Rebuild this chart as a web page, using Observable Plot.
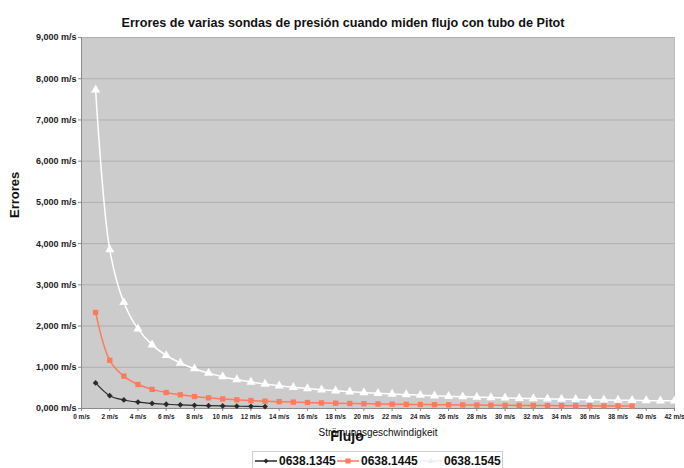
<!DOCTYPE html>
<html>
<head>
<meta charset="utf-8">
<script src="https://cdn.jsdelivr.net/npm/d3@7"></script>
<script src="https://cdn.jsdelivr.net/npm/@observablehq/plot@0.6"></script>
<style>
  body { margin: 0; background: #fff; font-family: "Liberation Sans", Arial, sans-serif; }
  #chart { width: 684px; }
  #legend { position: relative; width: 684px; height: 18px; }
  #legend .box { position: absolute; left: 252px; top: 1px; width: 251px; height: 20px; border: 1px solid #cfcfcf; background: #fff; box-sizing: border-box; }
  #legend .item { position: absolute; top: 2px; display: flex; align-items: center; font-weight: bold; font-size: 12px; color: #111; }
  #legend svg { margin-right: 2px; }
</style>
</head>
<body>
<div id="chart"></div>
<div id="legend"></div>
<script>
const title = "Errores de varias sondas de presión cuando miden flujo con tubo de Pitot";
const seriesNames = ["0638.1345", "0638.1445", "0638.1545"];
const seriesColors = ["#2a2a2a", "#ff7a5a", "#ffffff"];
const seriesSymbols = ["diamond2", "square", "triangle"];

const speeds1345 = [1,2,3,4,5,6,7,8,9,10,11,12,13];
const errors1345 = [620,310,207,155,124,103,89,78,69,62,56,52,48];

const speeds1445 = [1,2,3,4,5,6,7,8,9,10,11,12,13,14,15,16,17,18,19,20,21,22,23,24,25,26,27,28,29,30,31,32,33,34,35,36,37,38,39];
const errors1445 = [2330,1170,785,582,464,387,331,290,258,232,211,193,178,166,155,145,136,129,122,116,110,105,101,97,93,89,86,83,80,77,75,73,70,68,66,64,63,61,59];

const speeds1545 = [1,2,3,4,5,6,7,8,9,10,11,12,13,14,15,16,17,18,19,20,21,22,23,24,25,26,27,28,29,30,31,32,33,34,35,36,37,38,39,40,41,42];
const errors1545 = [7730,3855,2573,1930,1544,1287,1103,965,858,772,702,643,594,551,515,483,454,429,406,386,368,351,336,322,309,297,286,276,266,257,249,241,234,227,221,214,209,203,198,193,188,184];

const xTicks = [0,2,4,6,8,10,12,14,16,18,20,22,24,26,28,30,32,34,36,38,40,42];
const yTicks = [0,1000,2000,3000,4000,5000,6000,7000,8000,9000];
const yTickLabels = ["0,000 m/s","1,000 m/s","2,000 m/s","3,000 m/s","4,000 m/s","5,000 m/s","6,000 m/s","7,000 m/s","8,000 m/s","9,000 m/s"];
const xLabel = "Strömungsgeschwindigkeit";
const xTitle = "Flujo";
const yTitle = "Errores";

const seriesData = [
  speeds1345.map((s, i) => ({series: seriesNames[0], speed: s, error: errors1345[i]})),
  speeds1445.map((s, i) => ({series: seriesNames[1], speed: s, error: errors1445[i]})),
  speeds1545.map((s, i) => ({series: seriesNames[2], speed: s, error: errors1545[i]}))
];

const font = "Liberation Sans, Arial, sans-serif";
const marks = [
  Plot.frame({fill: "#cccccc", stroke: "#bdbdbd"}),
  Plot.ruleY(yTicks.slice(1), {stroke: "#b0b0b0", strokeWidth: 1}),
  Plot.ruleX([0], {stroke: "#8a8a8a"}),
  Plot.ruleY([0], {stroke: "#8a8a8a"}),
  Plot.axisX({ticks: xTicks, tickFormat: d => `${d} m/s`, tickSize: 3, tickPadding: 3, fontSize: 6.5, fontWeight: "bold", fill: "#222", stroke: "#888", label: null}),
  Plot.axisY({ticks: yTicks, tickFormat: d => yTickLabels[yTicks.indexOf(d)], tickSize: 3, tickPadding: 2, fontSize: 9, fontWeight: "bold", fill: "#222", stroke: "#888", label: null})
];
seriesData.forEach((rows, k) => {
  marks.push(Plot.line(rows, {x: "speed", y: "error", stroke: seriesColors[k], strokeWidth: k === 0 ? 1.2 : 1.5, curve: "catmull-rom"}));
  marks.push(Plot.dot(rows, {x: "speed", y: "error", fill: seriesColors[k], stroke: "none", symbol: seriesSymbols[k], r: k === 0 ? 2.6 : (k === 1 ? 3 : 3.4)}));
});
marks.push(
  Plot.text([title], {frameAnchor: "top", dx: -35, dy: -19, fontSize: 12.6, fontWeight: "bold", fill: "#111"}),
  Plot.text([yTitle], {frameAnchor: "left", dx: -67, dy: -5, rotate: -90, fontSize: 13, fontWeight: "bold", fill: "#111"}),
  Plot.text([xLabel], {frameAnchor: "bottom", dx: 0, dy: 27, fontSize: 10, fill: "#111"}),
  Plot.text([xTitle], {frameAnchor: "bottom", dx: -31, dy: 32, fontSize: 14, fontWeight: "bold", fill: "#111"})
);

const chart = Plot.plot({
  width: 684,
  height: 450,
  marginTop: 37,
  marginBottom: 42,
  marginLeft: 81,
  marginRight: 10,
  style: {fontFamily: font, background: "#fff", overflow: "visible"},
  x: {domain: [0, 42]},
  y: {domain: [0, 9000]},
  marks
});
document.getElementById("chart").appendChild(chart);

// Legend
const legend = document.getElementById("legend");
const box = document.createElement("div");
box.className = "box";
legend.appendChild(box);
const itemLefts = [255, 337, 420];
const symbolPaths = {
  diamond2: "M11,6.5 L13.5,9 L11,11.5 L8.5,9 Z",
  square: "M8.5,6.5 H13.5 V11.5 H8.5 Z",
  triangle: "M11,5.5 L14,11 L8,11 Z"
};
seriesNames.forEach((name, k) => {
  const item = document.createElement("div");
  item.className = "item";
  item.style.left = itemLefts[k] + "px";
  const stroke = k === 2 ? "#eeeeee" : seriesColors[k];
  item.innerHTML = `<svg width="22" height="18"><line x1="0" y1="9" x2="22" y2="9" stroke="${stroke}" stroke-width="1.5"/><path d="${symbolPaths[seriesSymbols[k]]}" fill="${stroke}"/></svg><span>${name}</span>`;
  legend.appendChild(item);
});
</script>
</body>
</html>
